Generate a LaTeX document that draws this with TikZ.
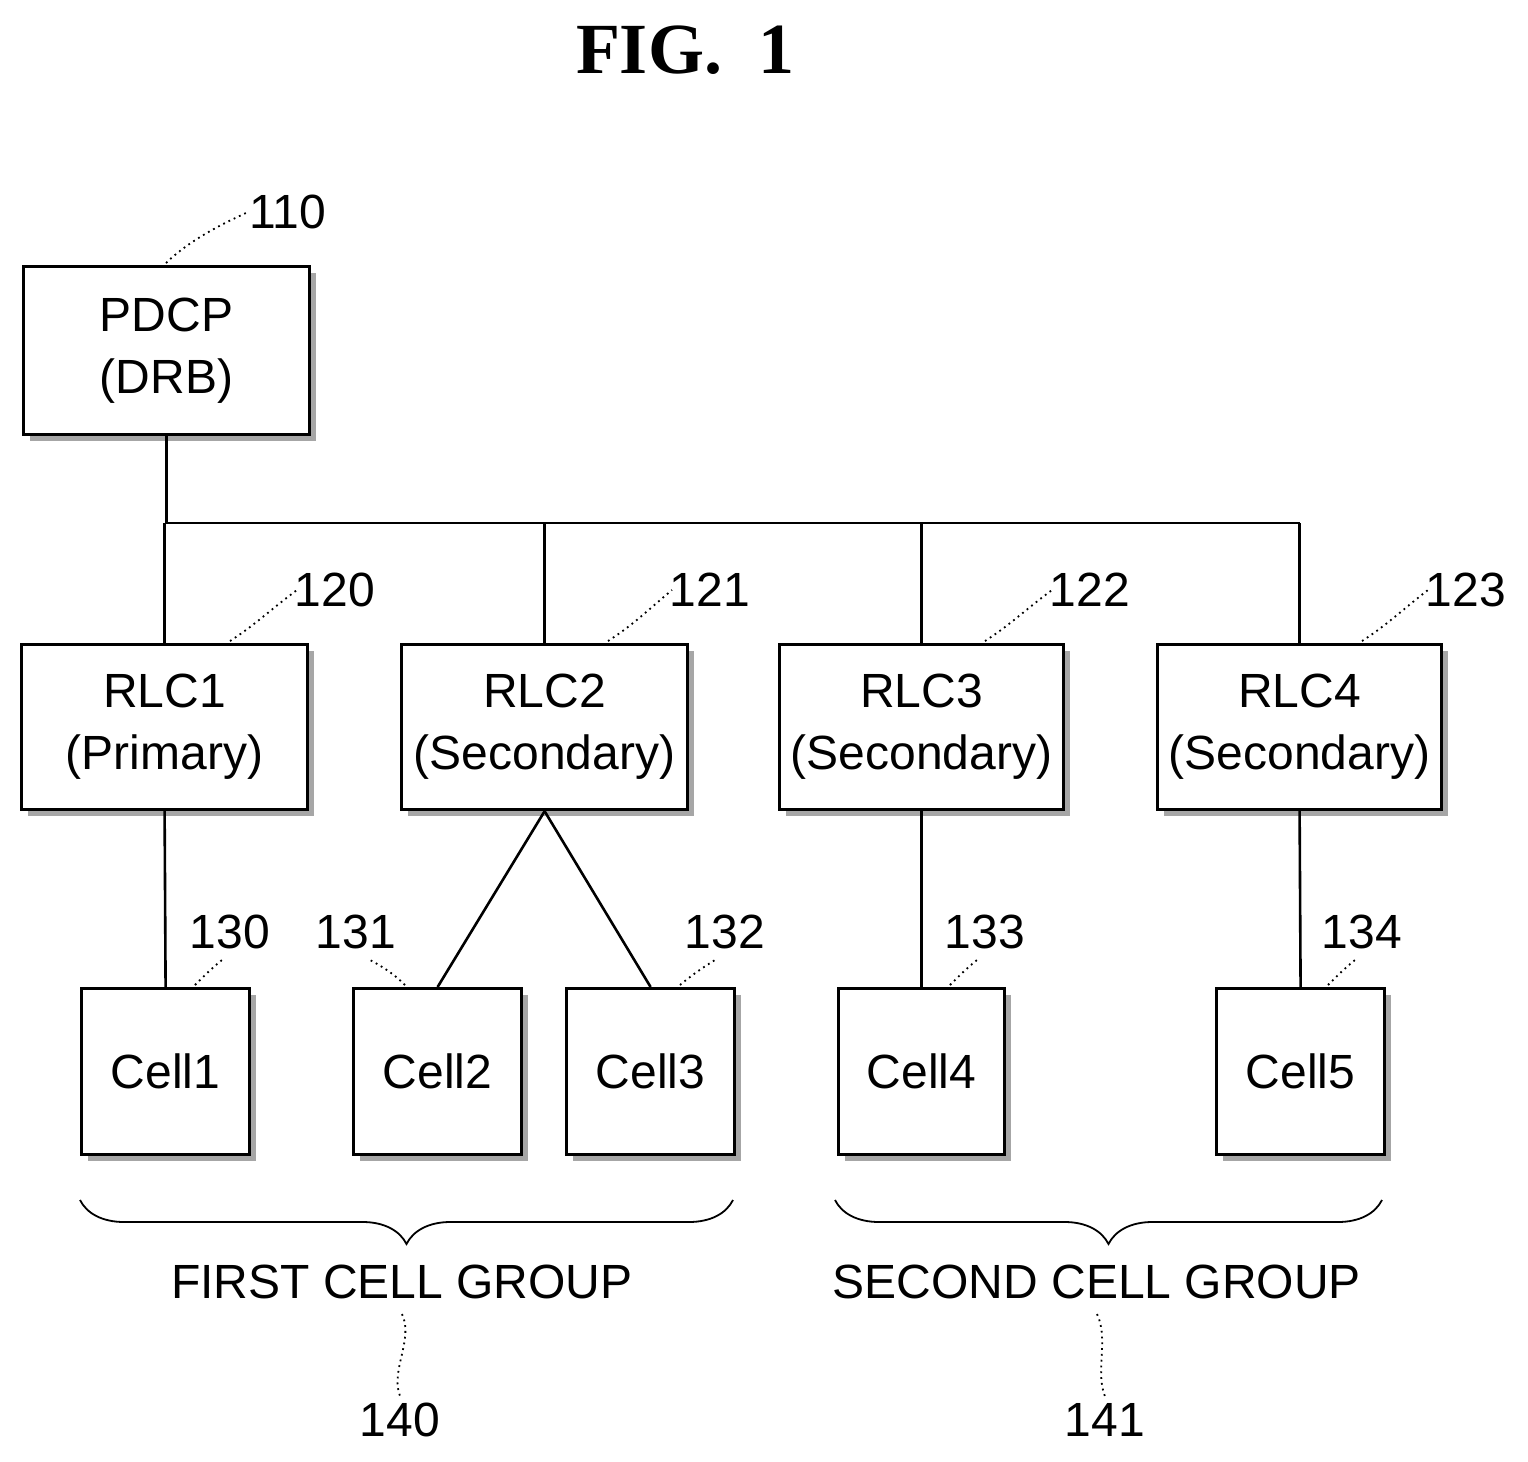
\documentclass[tikz,border=0pt]{standalone}
\usepackage{fontspec}
\setmainfont{Liberation Sans}
\newfontfamily\titlefont{Liberation Serif}
\usetikzlibrary{decorations.pathreplacing}
\begin{document}
\begin{tikzpicture}[x=0.5pt,y=-0.5pt,
  box/.style={draw,line width=1.6pt,fill=white,inner sep=0pt,align=center,font=\fontsize{24}{31}\selectfont},
  num/.style={font=\fontsize{24}{26}\selectfont},
  lead/.style={line width=0.9pt,dotted},
  ln/.style={line width=1.3pt}]
\useasboundingbox (0,0) rectangle (1528,1462);
\newcommand{\shbox}[6]{% name, x1,y1,x2,y2, text
  \fill[gray!70] (#2+8,#3+8) rectangle (#4+8,#5+8);
  \node[box,minimum width=(#4-#2)*0.5pt,minimum height=(#5-#3)*0.5pt,anchor=north west] (#1) at (#2,#3) {#6};}
\node[font=\titlefont\bfseries\fontsize{36}{40}\selectfont] (title) at (685,50) {FIG.\ \ 1};
\shbox{pdcp}{22}{265}{308}{433}{PDCP\\(DRB)}
\shbox{r1}{20}{643}{306}{808}{RLC1\\(Primary)}
\shbox{r2}{400}{643}{686}{808}{RLC2\\(Secondary)}
\shbox{r3}{778}{643}{1062}{808}{RLC3\\(Secondary)}
\shbox{r4}{1156}{643}{1440}{808}{RLC4\\(Secondary)}
\shbox{c1}{80}{987}{248}{1153}{Cell1}
\shbox{c2}{352}{987}{520}{1153}{Cell2}
\shbox{c3}{565}{987}{733}{1153}{Cell3}
\shbox{c4}{837}{987}{1003}{1153}{Cell4}
\shbox{c5}{1215}{987}{1383}{1153}{Cell5}
\coordinate (bl) at (pdcp.south |- 0,523); \coordinate (br) at (r4.north |- 0,523);
\draw[ln] (pdcp.south) -- (bl) -- (br);
\draw[ln] (r1.north |- bl) -- (r1.north);
\draw[ln] (r2.north |- bl) -- (r2.north);
\draw[ln] (r3.north |- bl) -- (r3.north);
\draw[ln] (br) -- (r4.north);
\draw[ln] (r1.south) -- (c1.north);
\draw[ln] (r2.south) -- (c2.north);
\draw[ln] (r2.south) -- (c3.north);
\draw[ln] (r3.south) -- (c4.north);
\draw[ln] (r4.south) -- (c5.north);
% labels
\node[num] (n110) at (288,212) {110};
\draw[lead] (166,263) .. controls (190,240) and (220,225) .. (248,212);
\node[num] (n120) at (335,590) {120};
\draw[lead] (230,641) .. controls (255,625) and (270,610) .. (297,590);
\node[num] (n121) at (710,590) {121};
\draw[lead] (608,641) .. controls (633,625) and (648,610) .. (672,590);
\node[num] (n122) at (1090,590) {122};
\draw[lead] (985,641) .. controls (1010,625) and (1025,610) .. (1052,590);
\node[num] (n123) at (1466,590) {123};
\draw[lead] (1362,641) .. controls (1387,625) and (1402,610) .. (1428,590);
\node[num] (n130) at (230,932) {130};
\draw[lead] (195,985) .. controls (205,975) and (212,968) .. (222,960);
\node[num] (n131) at (356,932) {131};
\draw[lead] (405,985) .. controls (395,975) and (385,968) .. (370,960);
\node[num] (n132) at (725,932) {132};
\draw[lead] (680,985) .. controls (692,975) and (702,968) .. (715,960);
\node[num] (n133) at (985,932) {133};
\draw[lead] (950,985) .. controls (960,975) and (967,968) .. (977,960);
\node[num] (n134) at (1362,932) {134};
\draw[lead] (1328,985) .. controls (1338,975) and (1345,968) .. (1355,960);
% braces
\draw[line width=0.9pt,decorate,decoration={brace,mirror,amplitude=22pt}] (80,1200) -- (733,1200);
\draw[line width=0.9pt,decorate,decoration={brace,mirror,amplitude=22pt}] (835,1200) -- (1382,1200);
\node[font=\fontsize{24}{26}\selectfont] (g1) at (402,1282) {FIRST CELL GROUP};
\node[font=\fontsize{24}{26}\selectfont] (g2) at (1097,1282) {SECOND CELL GROUP};
\node[num] (n140) at (400,1420) {140};
\node[num] (n141) at (1105,1420) {141};
\draw[lead] (g1.south) ++(0,8) .. controls +(12,25) and +(-10,-25) .. (n140.north);
\draw[lead] (g2.south) ++(0,8) .. controls +(12,25) and +(-10,-25) .. (n141.north);
\end{tikzpicture}
\end{document}
